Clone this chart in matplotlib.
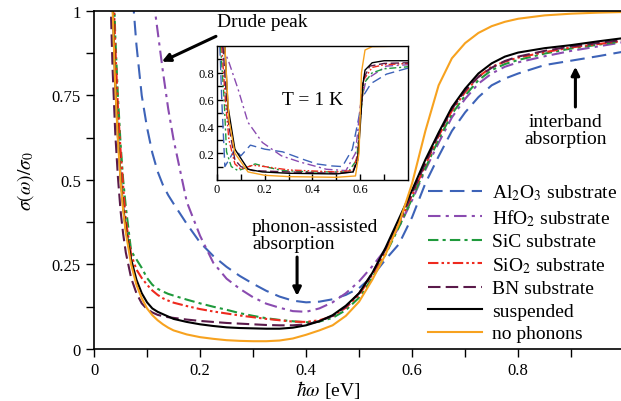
import matplotlib.pyplot as plt

plt.rcParams['font.family'] = ['Liberation Serif', 'DejaVu Serif']
plt.rcParams['mathtext.fontset'] = 'stix'

# main panel (room temperature), common energy grid in eV
w = [0.03, 0.035, 0.04, 0.045, 0.05, 0.055, 0.06, 0.07, 0.08, 0.09, 0.10, 0.11, 0.12,
     0.13, 0.14, 0.15, 0.175, 0.20, 0.225, 0.25, 0.275, 0.30, 0.325, 0.35, 0.375,
     0.40, 0.425, 0.45, 0.475, 0.50, 0.525, 0.55, 0.575, 0.60, 0.625, 0.65, 0.675,
     0.70, 0.725, 0.75, 0.775, 0.80, 0.85, 0.90, 0.95, 1.00]
al2o3 = [2.6, 2.3, 2.0, 1.8, 1.62, 1.47, 1.33, 1.1, 0.90, 0.75, 0.655, 0.58, 0.525,
         0.485, 0.455, 0.43, 0.37, 0.315, 0.275, 0.243, 0.216, 0.193, 0.172, 0.155, 0.143,
         0.138, 0.140, 0.147, 0.16, 0.18, 0.215, 0.265, 0.31, 0.39, 0.49, 0.57, 0.645,
         0.70, 0.745, 0.78, 0.80, 0.815, 0.84, 0.853, 0.866, 0.88]
hfo2 = [4.0, 3.6, 3.2, 2.9, 2.6, 2.35, 2.15, 1.8, 1.55, 1.35, 1.2, 1.06, 0.94,
        0.82, 0.71, 0.62, 0.435, 0.335, 0.255, 0.208, 0.178, 0.153, 0.134, 0.122, 0.112,
        0.110, 0.12, 0.138, 0.165, 0.20, 0.245, 0.295, 0.36, 0.44, 0.53, 0.61, 0.685,
        0.74, 0.785, 0.815, 0.835, 0.848, 0.866, 0.882, 0.895, 0.908]
sic = [1.6, 1.2, 0.93, 0.75, 0.61, 0.5, 0.42, 0.29, 0.265, 0.24, 0.21, 0.19, 0.178,
       0.170, 0.163, 0.158, 0.146, 0.135, 0.125, 0.116, 0.106, 0.098, 0.091, 0.086, 0.082,
       0.079, 0.081, 0.092, 0.115, 0.152, 0.21, 0.28, 0.36, 0.445, 0.535, 0.62, 0.695,
       0.75, 0.795, 0.825, 0.843, 0.855, 0.874, 0.889, 0.90, 0.911]
sio2 = [1.55, 1.15, 0.9, 0.72, 0.59, 0.48, 0.38, 0.28, 0.235, 0.21, 0.19, 0.173, 0.16,
        0.15, 0.143, 0.137, 0.127, 0.118, 0.111, 0.105, 0.099, 0.094, 0.089, 0.085, 0.081,
        0.08, 0.085, 0.097, 0.122, 0.16, 0.22, 0.29, 0.37, 0.455, 0.545, 0.63, 0.705,
        0.76, 0.805, 0.835, 0.85, 0.862, 0.878, 0.892, 0.902, 0.912]
bn = [1.1, 0.83, 0.64, 0.51, 0.41, 0.34, 0.285, 0.21, 0.165, 0.135, 0.118, 0.108, 0.101,
      0.097, 0.094, 0.092, 0.087, 0.083, 0.080, 0.077, 0.075, 0.073, 0.071, 0.07, 0.07,
      0.073, 0.082, 0.098, 0.125, 0.165, 0.225, 0.295, 0.375, 0.46, 0.55, 0.635, 0.71,
      0.765, 0.805, 0.832, 0.852, 0.865, 0.882, 0.895, 0.905, 0.915]
suspended = [1.40, 1.03, 0.79, 0.63, 0.51, 0.42, 0.355, 0.265, 0.205, 0.165, 0.138, 0.12, 0.11,
             0.103, 0.096, 0.089, 0.08, 0.073, 0.068, 0.064, 0.062, 0.061, 0.060, 0.060, 0.063,
             0.070, 0.082, 0.100, 0.128, 0.165, 0.225, 0.30, 0.385, 0.47, 0.56, 0.64, 0.715,
             0.77, 0.815, 0.845, 0.865, 0.877, 0.89, 0.899, 0.91, 0.92]
nophonons = [1.38, 1.01, 0.78, 0.62, 0.50, 0.41, 0.345, 0.25, 0.19, 0.15, 0.12, 0.10, 0.085,
             0.073, 0.063, 0.055, 0.043, 0.035, 0.03, 0.026, 0.024, 0.023, 0.023, 0.025, 0.031,
             0.042, 0.055, 0.07, 0.098, 0.14, 0.205, 0.28, 0.37, 0.49, 0.645, 0.78, 0.86,
             0.905, 0.935, 0.955, 0.968, 0.977, 0.987, 0.992, 0.995, 0.997]

# inset (T = 1 K)
in_al2o3_x = [0.012, 0.02, 0.033, 0.05, 0.075, 0.10, 0.14, 0.2, 0.275, 0.367, 0.417, 0.48,
              0.525, 0.567, 0.59, 0.61, 0.645, 0.71, 0.8]
in_al2o3_y = [1.0, 0.6, 0.1, 0.15, 0.23, 0.18, 0.26, 0.23, 0.21, 0.15, 0.12, 0.105,
              0.10, 0.23, 0.43, 0.62, 0.72, 0.79, 0.835]
in_hfo2_x = [0.02, 0.046, 0.088, 0.13, 0.19, 0.27, 0.346, 0.458, 0.54, 0.58, 0.60,
             0.625, 0.71, 0.8]
in_hfo2_y = [1.0, 0.90, 0.68, 0.43, 0.28, 0.18, 0.135, 0.08, 0.07, 0.2, 0.55,
             0.75, 0.85, 0.86]
in_sic_x = [0.015, 0.03, 0.04, 0.06, 0.088, 0.12, 0.16, 0.2, 0.275, 0.4, 0.55, 0.585,
            0.60, 0.615, 0.65, 0.7, 0.8]
in_sic_y = [1.0, 0.6, 0.21, 0.1, 0.07, 0.09, 0.12, 0.10, 0.07, 0.06, 0.06, 0.15,
            0.45, 0.72, 0.80, 0.83, 0.845]
in_sio2_x = [0.02, 0.035, 0.05, 0.075, 0.1, 0.15, 0.2, 0.3, 0.5, 0.57, 0.59, 0.60,
             0.615, 0.65, 0.7, 0.8]
in_sio2_y = [1.0, 0.6, 0.3, 0.12, 0.08, 0.11, 0.10, 0.075, 0.06, 0.07, 0.2, 0.45,
             0.75, 0.84, 0.86, 0.87]
in_bn_x = [0.025, 0.04, 0.05, 0.075, 0.1, 0.15, 0.3, 0.5, 0.57, 0.59, 0.60, 0.612,
           0.64, 0.7, 0.8]
in_bn_y = [1.0, 0.6, 0.4, 0.15, 0.1, 0.07, 0.06, 0.05, 0.06, 0.18, 0.45, 0.75,
           0.85, 0.87, 0.875]
in_susp_x = [0.033, 0.046, 0.075, 0.13, 0.19, 0.3, 0.5, 0.57, 0.59, 0.60, 0.61, 0.62,
             0.65, 0.7, 0.8]
in_susp_y = [1.0, 0.55, 0.23, 0.08, 0.06, 0.05, 0.045, 0.06, 0.15, 0.4, 0.7, 0.82,
             0.875, 0.89, 0.89]
in_noph_x = [0.033, 0.05, 0.075, 0.13, 0.2, 0.3, 0.5, 0.58, 0.595, 0.605, 0.62,
             0.65, 0.8]
in_noph_y = [1.0, 0.45, 0.2, 0.06, 0.035, 0.025, 0.02, 0.03, 0.2, 0.8, 0.97,
             0.995, 1.0]

labels = ['Al$_2$O$_3$ substrate', 'HfO$_2$ substrate', 'SiC substrate',
          'SiO$_2$ substrate', 'BN substrate', 'suspended', 'no phonons']
colors = ['#3d63b8', '#8a4bb0', '#1f9a3c', '#ee2a1e', '#5a1a4a', 'black', '#f7a21f']
styles = [(0, (7, 3.5)), (0, (6, 2.5, 1.5, 2.5)), (0, (5, 2, 1.5, 2)),
          (0, (5, 1.5, 1.2, 1.5, 1.2, 1.5)), (0, (6, 2.5)), '-', '-']

main_y = [al2o3, hfo2, sic, sio2, bn, suspended, nophonons]
inset_xy = [(in_al2o3_x, in_al2o3_y), (in_hfo2_x, in_hfo2_y), (in_sic_x, in_sic_y),
            (in_sio2_x, in_sio2_y), (in_bn_x, in_bn_y), (in_susp_x, in_susp_y),
            (in_noph_x, in_noph_y)]

fig = plt.figure(figsize=(6.21, 4.02), dpi=100)
ax = fig.add_axes([0.1514, 0.1294, 0.8486, 0.8408])

for ys, c, ls, lab in zip(main_y, colors, styles, labels):
    ax.plot(w, ys, color=c, ls=ls, lw=1.5, label=lab)

ax.set_xlim(0, 0.994)
ax.set_ylim(0, 1)
ax.set_xticks([0, 0.2, 0.4, 0.6, 0.8])
ax.set_xticklabels(['0', '0.2', '0.4', '0.6', '0.8'])
ax.set_xticks([0.1, 0.3, 0.5, 0.7, 0.9], minor=True)
ax.set_yticks([0, 0.25, 0.5, 0.75, 1])
ax.set_yticklabels(['0', '0.25', '0.5', '0.75', '1'])
ax.set_yticks([0.125, 0.375, 0.625, 0.875], minor=True)
ax.tick_params(which='both', direction='out', length=6, width=1, labelsize=12)
ax.tick_params(which='minor', labelleft=False)
ax.spines['right'].set_visible(False)
for s in ['left', 'bottom', 'top']:
    ax.spines[s].set_linewidth(1.2)

ax.set_xlabel(r'$\hbar\omega$ [eV]', fontsize=14, labelpad=4)
ax.xaxis.set_label_coords(0.445, -0.085)
ax.set_ylabel(r'$\sigma(\omega)/\sigma_0$', fontsize=14, labelpad=4)
ax.yaxis.set_label_coords(-0.11, 0.5)

ax.legend(loc='upper left', bbox_to_anchor=(0.619, 0.515), frameon=False, fontsize=14,
          handlelength=2.8, handletextpad=0.5, labelspacing=0.25, borderaxespad=0)

arrow = dict(arrowstyle='-|>', color='black', lw=2.2, mutation_scale=12,
             shrinkA=0, shrinkB=0)
ax.text(0.317, 0.97, 'Drude peak', fontsize=14, ha='center', va='center')
ax.annotate('', xy=(0.128, 0.85), xytext=(0.23, 0.925), arrowprops=arrow)
ax.text(0.889, 0.648, 'interband\nabsorption', fontsize=14, ha='center', va='center',
        linespacing=1.0)
ax.annotate('', xy=(0.908, 0.835), xytext=(0.908, 0.716), arrowprops=arrow)
ax.text(0.298, 0.337, 'phonon-assisted\nabsorption', fontsize=14, ha='left', va='center',
        linespacing=1.0)
ax.annotate('', xy=(0.383, 0.157), xytext=(0.383, 0.272), arrowprops=arrow)

ins = fig.add_axes([0.3494, 0.5498, 0.3076, 0.3333])
for (xs, ys), c, ls in zip(inset_xy, colors, styles):
    ins.plot(xs, ys, color=c, ls=ls, lw=1.0)
ins.set_xlim(0, 0.8)
ins.set_ylim(0, 1)
ins.set_xticks([0, 0.2, 0.4, 0.6])
ins.set_xticklabels(['0', '0.2', '0.4', '0.6'])
ins.set_xticks([0.1, 0.3, 0.5, 0.7], minor=True)
ins.set_yticks([0.2, 0.4, 0.6, 0.8])
ins.set_yticklabels(['0.2', '0.4', '0.6', '0.8'])
ins.set_yticks([0.1, 0.3, 0.5, 0.7, 0.9], minor=True)
ins.tick_params(which='both', direction='in', length=4, width=1, labelsize=9, pad=2)
for s in ins.spines.values():
    s.set_linewidth(1.0)
ins.text(0.4, 0.6, 'T = 1 K', fontsize=14, ha='center', va='center')

fig.savefig('out.png', dpi=100)
